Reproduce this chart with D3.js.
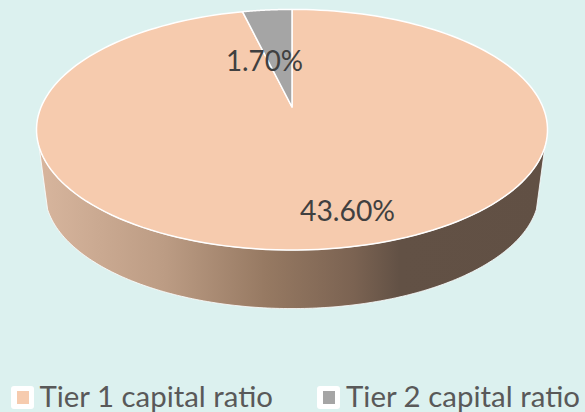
<!DOCTYPE html>
<html><head><meta charset="utf-8">
<script src="https://cdn.jsdelivr.net/npm/d3@7"></script>
<style>html,body{margin:0;padding:0;background:#DCF1EF}svg{display:block}text{font-family:Lato,"Open Sans",sans-serif}</style>
</head><body><svg id="c" width="585" height="412"></svg>
<script>
const categories = ["Tier 1 capital ratio", "Tier 2 capital ratio"];
const values = [43.6, 1.7];
const labels = ["43.60%", "1.70%"];
const colors = ["#F6CBAE", "#A5A5A5"];
const wallStops = [[0,"#D8B69E"],[0.25,"#BC9C84"],[0.45,"#967962"],[0.62,"#7B6352"],[0.71,"#625145"],[1,"#615044"]];

const svg = d3.select("#c");
const cx = 292, apexY = 107, ax = 250.9, by = 116, e = -0.189;
const depthScale = 0.967, topCenterY = 130, botCenterY = 192.5;

// perspective projection of a unit disc
function proj(theta, r = 1) {
  const u = r * Math.sin(theta), v = -r * Math.cos(theta), w = 1 + e * v;
  return [cx + ax * u / w, apexY + by * v / w];
}
function projBottom(theta) {
  const [x, y] = proj(theta);
  return [cx + (x - cx) * depthScale, botCenterY + (y - topCenterY) * depthScale];
}
const line = d3.line();
const sample = (a0, a1, f) => d3.range(0, 181).map(i => f(a0 + (a1 - a0) * i / 180));

const defs = svg.append("defs");
const grad = defs.append("linearGradient").attr("id", "wall")
  .attr("gradientUnits", "userSpaceOnUse").attr("x1", 36).attr("x2", 548).attr("y1", 0).attr("y2", 0);
grad.selectAll("stop").data(wallStops).join("stop")
  .attr("offset", d => d[0]).attr("stop-color", d => d[1]);

const rad = d3.scaleLinear().domain([0, 360]).range([0, 2 * Math.PI]);
const wallA = rad(109), wallB = rad(251);
const wallPts = sample(wallA, wallB, proj).concat(sample(wallB, wallA, projBottom));
svg.append("path").attr("d", line(wallPts) + "Z")
  .attr("fill", "url(#wall)").attr("stroke", "#fff").attr("stroke-width", 1).attr("stroke-opacity", 0.8);

const pie = d3.pie().sort(null).value(d => d)(values);
svg.selectAll("path.slice").data(pie).join("path").attr("class", "slice")
  .attr("d", d => {
    const pts = [proj(0, 0)].concat(sample(d.startAngle, d.endAngle, proj));
    return line(pts) + "Z";
  })
  .attr("fill", (d, i) => colors[i])
  .attr("stroke", "#fff").attr("stroke-width", 1.5).attr("stroke-linejoin", "round");

// data labels
const labelPos = [[347.5, 221], [264.5, 71]];
svg.selectAll("text.lab").data(labels).join("text").attr("class", "lab")
  .attr("x", (d, i) => labelPos[i][0]).attr("y", (d, i) => labelPos[i][1])
  .attr("text-anchor", "middle").attr("font-size", 29).attr("fill", "#404040")
  .attr("textLength", (d, i) => i ? 77 : 95).attr("lengthAdjust", "spacingAndGlyphs")
  .text(d => d);

// legend
const legendX = [11, 317], legendTextX = [39.5, 346], legendLen = [233.5, 234];
const lg = svg.selectAll("g.lg").data(categories).join("g").attr("class", "lg");
lg.append("rect").attr("x", (d, i) => legendX[i]).attr("y", 386).attr("width", 23).attr("height", 23).attr("rx", 3).attr("fill", "#fff");
lg.append("rect").attr("x", (d, i) => legendX[i] + 6).attr("y", 391).attr("width", 12).attr("height", 13).attr("fill", (d, i) => colors[i]);
lg.append("text").attr("x", (d, i) => legendTextX[i]).attr("y", 407)
  .attr("font-size", 29).attr("fill", "#595959")
  .attr("textLength", (d, i) => legendLen[i]).attr("lengthAdjust", "spacingAndGlyphs")
  .text(d => d);
</script></body></html>
